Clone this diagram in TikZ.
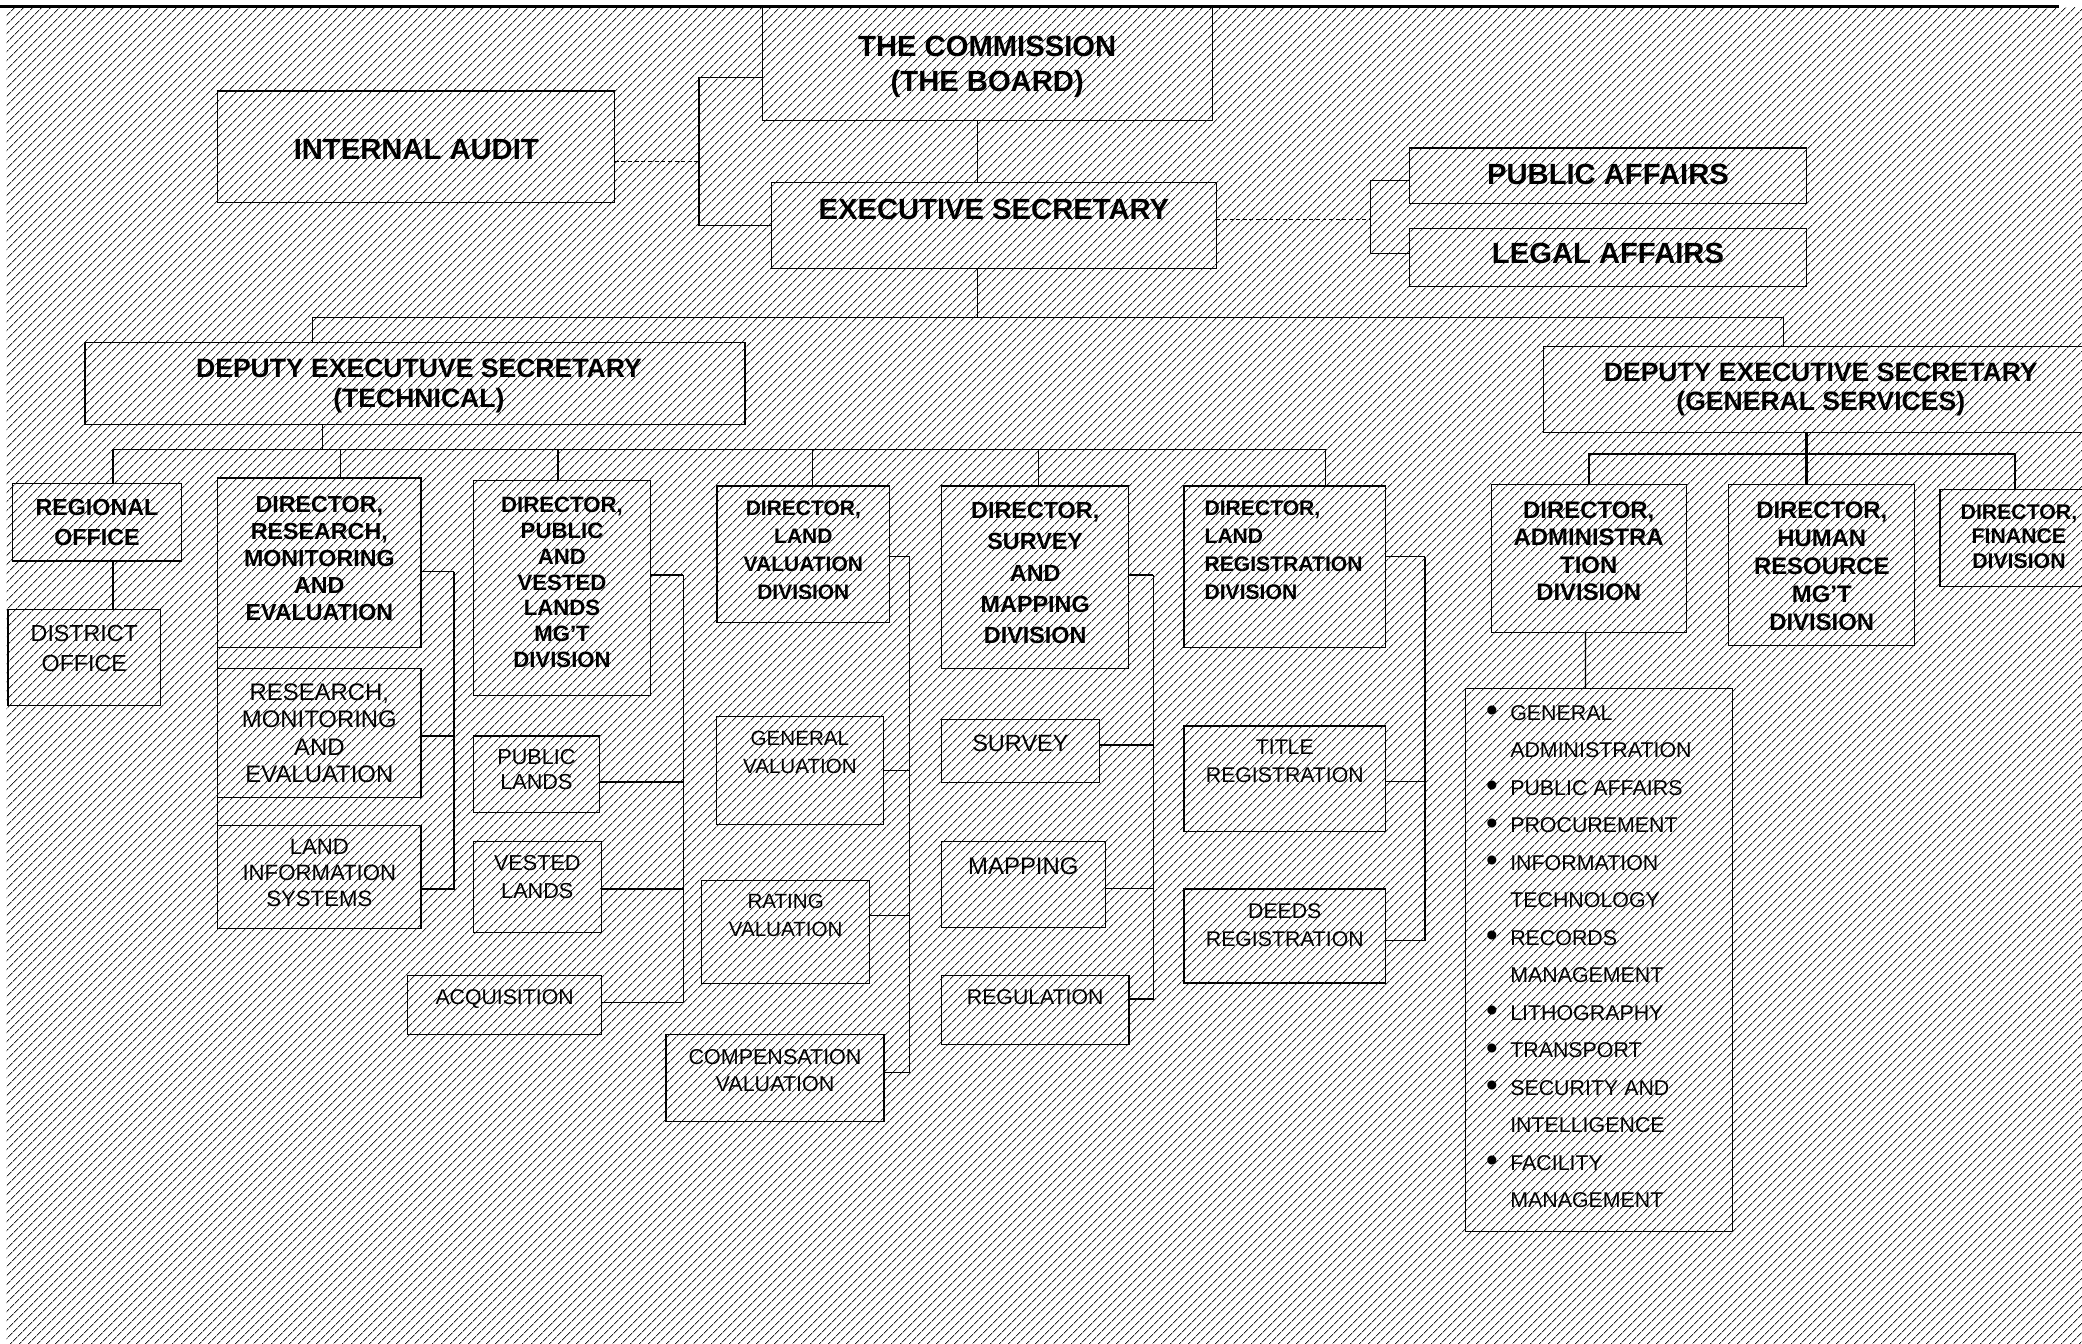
\documentclass[tikz,border=0pt]{standalone}
\usepackage{fontspec}
\setmainfont{Liberation Sans}
\usetikzlibrary{positioning, patterns.meta}

\newcommand{\bul}{\llap{\raisebox{-1.2pt}{\fontsize{25}{25}\selectfont\textbullet}\hspace{9.5pt}}}

\begin{document}
\begin{tikzpicture}[
      x=1pt, y=-1pt,
      box/.style={draw, line width=0.9pt, inner sep=0pt, outer sep=0pt},
      link/.style={line width=1pt},
      dashlink/.style={line width=0.8pt, dash pattern=on 3pt off 2pt},
      heavylink/.style={line width=1.8pt},
      lbl/.style={inner sep=0pt, align=center},
      heavy/.style 2 args={lbl, font=\bfseries\fontsize{#1}{#2}\selectfont},
      light/.style 2 args={lbl, font=\fontsize{#1}{#2}\selectfont}
   ]
   \useasboundingbox (0,0) rectangle (1568,1012);

   % Hatched page and top rule
   \fill[pattern={Lines[angle=45, distance=5.4pt, line width=0.75pt]}, pattern color=black!85] (5,6) rectangle (1568,1012);
   \draw[line width=1.8pt] (0,5) -- (1551,5);

   % Boxes for the top levels
   \node[box, minimum width=339pt, minimum height=85.5pt] (comm) at (743.5,47.75) {};
   \node[box, minimum width=299pt, minimum height=84pt] (ia) at (313.5,110.5) {};
   \node[box, minimum width=335pt, minimum height=64.5pt] (es) at (748.5,169.75) {};
   \node[box, minimum width=299pt, minimum height=42pt] (pa) at (1211,132.5) {};
   \node[box, minimum width=299pt, minimum height=44pt] (la) at (1211,194) {};
   \node[box, minimum width=497pt, minimum height=61.5pt] (dest) at (312.5,288.75) {};
   \node[box, minimum width=417.5pt, minimum height=64.5pt] (desg) at (1371.25,293.25) {};

   % Boxes for the technical side
   \node[box, minimum width=127pt, minimum height=58.5pt] (reg) at (73,393.25) {};
   \node[box, minimum width=115pt, minimum height=72.5pt] (dist) at (63.5,495.25) {};
   \node[box, minimum width=153pt, minimum height=127.5pt] (dirrme) at (240.5,423.75) {};
   \node[box, minimum width=153pt, minimum height=97pt] (rme) at (240.5,552) {};
   \node[box, minimum width=153pt, minimum height=77.5pt] (lis) at (240.5,660.25) {};
   \node[box, minimum width=133.5pt, minimum height=161.5pt] (dirpvl) at (423.25,442.75) {};
   \node[box, minimum width=95pt, minimum height=57.4pt] (pl) at (404,583) {};
   \node[box, minimum width=96.3pt, minimum height=68pt] (vl) at (404.65,668) {};
   \node[box, minimum width=146pt, minimum height=44.5pt] (acq) at (380,756.75) {};
   \node[box, minimum width=130pt, minimum height=102.7pt] (dirlv) at (605,417.35) {};
   \node[box, minimum width=125.8pt, minimum height=81.3pt] (gv) at (602.4,580.15) {};
   \node[box, minimum width=126.6pt, minimum height=77.6pt] (rv) at (591.7,701.8) {};
   \node[box, minimum width=164.2pt, minimum height=65.5pt] (cv) at (583.7,811.75) {};
   \node[box, minimum width=140.7pt, minimum height=137.3pt] (dirsm) at (779.65,434.65) {};
   \node[box, minimum width=119pt, minimum height=47.5pt] (sur) at (768.5,565.45) {};
   \node[box, minimum width=123.4pt, minimum height=64.7pt] (map) at (770.7,666.35) {};
   \node[box, minimum width=141.3pt, minimum height=51.7pt] (regu) at (779.65,760.65) {};
   \node[box, minimum width=151.8pt, minimum height=121.5pt] (dirlr) at (967.6,426.75) {};
   \node[box, minimum width=151.8pt, minimum height=79.7pt] (tit) at (967.6,586.65) {};
   \node[box, minimum width=151.8pt, minimum height=70.8pt] (deed) at (967.6,704.9) {};

   % Boxes for general services
   \node[box, minimum width=147pt, minimum height=111.5pt] (diradm) at (1196.5,420.75) {};
   \node[box, minimum width=140pt, minimum height=121pt] (dirhr) at (1372,425.5) {};
   \node[box, minimum width=119pt, minimum height=73.5pt] (dirfin) at (1520.5,405.25) {};
   \node[box, minimum width=201.1pt, minimum height=408.8pt] (list) at (1204.05,722.9) {};

   % Texts
   \node[heavy={22}{26}, below=22.1pt of comm.north] (comm-t) {THE COMMISSION\\(THE BOARD)};
   \node[heavy={22}{26}, below=36.6pt of ia.north] (ia-t) {INTERNAL AUDIT};
   \node[heavy={22}{26}, below=12.6pt of es.north] (es-t) {EXECUTIVE SECRETARY};
   \node[heavy={22}{26}, below=11.6pt of pa.north] (pa-t) {PUBLIC AFFAIRS};
   \node[heavy={22}{26}, below=11.1pt of la.north] (la-t) {LEGAL AFFAIRS};
   \node[heavy={20}{23}, below=11.8pt of dest.north, xshift=3pt] (dest-t) {DEPUTY EXECUTUVE SECRETARY\\(TECHNICAL)};
   \node[heavy={20}{22}, below=11.8pt of desg.north] (desg-t) {DEPUTY EXECUTIVE SECRETARY\\(GENERAL SERVICES)};
   \node[heavy={17.5}{23}, below=11.7pt of reg.north] (reg-t) {REGIONAL\\OFFICE};
   \node[light={17.5}{23}, below=11.6pt of dist.north] (dist-t) {DISTRICT\\OFFICE};
   \node[heavy={17.5}{20.3}, below=13.7pt of dirrme.north] (dirrme-t) {DIRECTOR,\\RESEARCH,\\MONITORING\\AND\\EVALUATION};
   \node[light={18}{20.7}, below=11pt of rme.north] (rme-t) {RESEARCH,\\MONITORING\\AND\\EVALUATION};
   \node[light={16.7}{19.5}, below=10.5pt of lis.north] (lis-t) {LAND\\INFORMATION\\SYSTEMS};
   \node[heavy={16.7}{19.5}, below=12pt of dirpvl.north] (dirpvl-t) {DIRECTOR,\\PUBLIC\\AND\\VESTED\\LANDS\\MG’T\\DIVISION};
   \node[light={16.3}{19}, below=9.8pt of pl.north] (pl-t) {PUBLIC\\LANDS};
   \node[light={16.3}{21}, below=10.1pt of vl.north] (vl-t) {VESTED\\LANDS};
   \node[light={16}{20}, below=10.7pt of acq.north] (acq-t) {ACQUISITION};
   \node[heavy={15.8}{21}, below=11.3pt of dirlv.north] (dirlv-t) {DIRECTOR,\\LAND\\VALUATION\\DIVISION};
   \node[light={15.5}{21}, below=10.9pt of gv.north] (gv-t) {GENERAL\\VALUATION};
   \node[light={15.5}{21}, below=10.4pt of rv.north] (rv-t) {RATING\\VALUATION};
   \node[light={16.2}{20}, below=11.2pt of cv.north] (cv-t) {COMPENSATION\\VALUATION};
   \node[heavy={17.6}{23.7}, below=11.7pt of dirsm.north] (dirsm-t) {DIRECTOR,\\SURVEY\\AND\\MAPPING\\DIVISION};
   \node[light={17.7}{20}, below=11.9pt of sur.north] (sur-t) {SURVEY};
   \node[light={18}{20}, below=11.5pt of map.north] (map-t) {MAPPING};
   \node[light={16}{20}, below=10.4pt of regu.north] (regu-t) {REGULATION};
   \node[heavy={15.9}{21}, align=left, below right=11.3pt and 15.3pt of dirlr.north west] (dirlr-t) {DIRECTOR,\\LAND\\REGISTRATION\\DIVISION};
   \node[light={16}{21}, below=10.4pt of tit.north] (tit-t) {TITLE\\REGISTRATION};
   \node[light={16}{21}, below=10.7pt of deed.north] (deed-t) {DEEDS\\REGISTRATION};
   \node[heavy={18}{20.7}, below=12.5pt of diradm.north] (diradm-t) {DIRECTOR,\\ADMINISTRA\\TION\\DIVISION};
   \node[heavy={18}{21.2}, below=12.5pt of dirhr.north] (dirhr-t) {DIRECTOR,\\HUMAN\\RESOURCE\\MG’T\\DIVISION};
   \node[heavy={16}{18.5}, below=11.2pt of dirfin.north] (dirfin-t) {DIRECTOR,\\FINANCE\\DIVISION};
   \node[light={16.1}{28.24}, align=left, below right=12.5pt and 33.7pt of list.north west] (list-t) {%
      \bul GENERAL\\ADMINISTRATION\\
      \bul PUBLIC AFFAIRS\\
      \bul PROCUREMENT\\
      \bul INFORMATION\\TECHNOLOGY\\
      \bul RECORDS\\MANAGEMENT\\
      \bul LITHOGRAPHY\\
      \bul TRANSPORT\\
      \bul SECURITY AND\\INTELLIGENCE\\
      \bul FACILITY\\MANAGEMENT};

   % Links at the top
   \draw[link] ([yshift=-10.75pt]comm.west) -- ++(-47.5,0) coordinate (boardbar) |- (es.west);
   \path ([yshift=-10.8pt]ia.east) coordinate (iaout);
   \draw[dashlink] (iaout) -- (iaout -| boardbar);
   \coordinate (hub) at (736,239.2);
   \draw[link] (comm.south -| hub) -- (es.north -| hub);
   \draw[link] (es.south -| hub) -- (hub);
   \path ([yshift=4.5pt]es.east) coordinate (esout);
   \draw[dashlink] (esout) -- ++(116,0) coordinate (affbar);
   \draw[link] ([yshift=-3.5pt]pa.west) -| (affbar) |- ([yshift=3pt]la.west);
   \draw[link] ([xshift=-77pt]dest.north) |- (hub);
   \draw[link] ([xshift=-28.25pt]desg.north) |- (hub);

   % Links on the technical side
   \draw[link] ([xshift=-69.5pt]dest.south) -- ++(0,18.9) coordinate (techbus);
   \foreach \n/\dx in {reg/12, dirrme/16, dirpvl/-3, dirlv/7, dirsm/2.7, dirlr/30.8}
      \draw[link] ([xshift=\dx pt]\n.north) |- (techbus);
   \draw[link] ([xshift=12pt]reg.south) -- ([xshift=21.5pt]dist.north);
   \draw[link] (dirrme.south west) -- (lis.north west);
   \draw[link] ([yshift=-6.75pt]dirrme.east) -- ++(25,0) coordinate (rmebar);
   \foreach \c/\dy in {rme/-2.3, lis/-9.25}
      \draw[link] ([yshift=\dy pt]\c.east) -| (rmebar);
   \draw[link] ([yshift=9.75pt]dirpvl.east) -- ++(24.5,0) coordinate (pvlbar);
   \foreach \c/\dy in {pl/-6, vl/-1.5, acq/1.75}
      \draw[link] ([yshift=\dy pt]\c.east) -| (pvlbar);
   \draw[link] ([yshift=-1.85pt]dirlv.east) -- ++(15.2,0) coordinate (lvbar);
   \foreach \c/\dy in {gv/0, rv/12.2, cv/3.85}
      \draw[link] ([yshift=\dy pt]\c.east) -| (lvbar);
   \draw[link] ([yshift=1.65pt]dirsm.east) -- ++(18.6,0) coordinate (smbar);
   \foreach \c/\dy in {sur/4.45, map/-3, regu/8.25}
      \draw[link] ([yshift=\dy pt]\c.east) -| (smbar);
   \draw[link] ([yshift=7.55pt]dirlr.east) -- ++(29.8,0) coordinate (lrbar);
   \foreach \c/\dy in {tit/-2, deed/-3.3}
      \draw[link] ([yshift=\dy pt]\c.east) -| (lrbar);

   % Links on the general services side
   \draw[heavylink] ([xshift=-10.75pt]desg.south) -- ([xshift=-11.5pt]dirhr.north);
   \path ([xshift=-10.75pt]desg.south) ++(0,16.5) coordinate (genbus);
   \draw[heavylink] (diradm.north) |- (genbus) -| ([xshift=-3pt]dirfin.north);
   \draw[link] ([xshift=-2.5pt]diradm.south) -- ([xshift=-10pt]list.north);
\end{tikzpicture}
\end{document}
